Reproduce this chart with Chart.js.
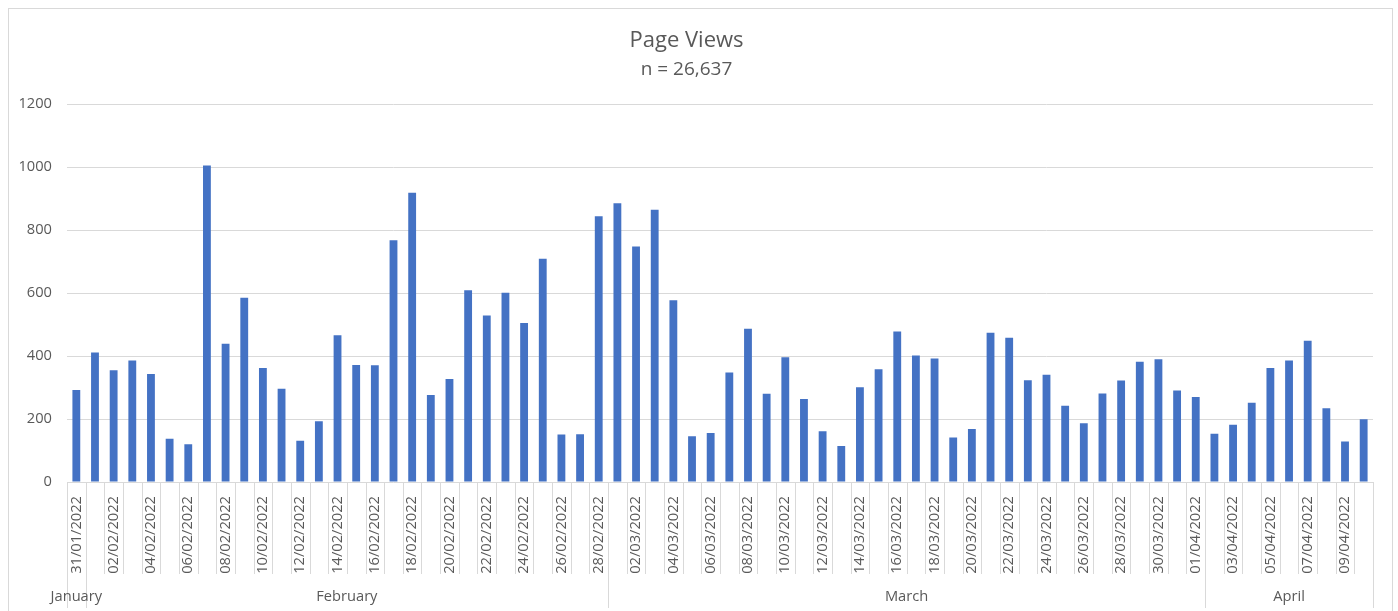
<!DOCTYPE html>
<html>
<head>
<meta charset="utf-8">
<script src="https://cdn.jsdelivr.net/npm/chart.js@4.4.1/dist/chart.umd.min.js"></script>
<style>
  html, body { margin: 0; padding: 0; background: #ffffff; }
  #wrap { width: 1398px; height: 611px; position: relative; overflow: hidden; }
  canvas { display: block; }
</style>
</head>
<body>
<div id="wrap"><canvas id="chart" width="1398" height="611"></canvas></div>
<script>
const categories = [
  '31/01/2022',
  '01/02/2022','02/02/2022','03/02/2022','04/02/2022','05/02/2022','06/02/2022','07/02/2022',
  '08/02/2022','09/02/2022','10/02/2022','11/02/2022','12/02/2022','13/02/2022','14/02/2022',
  '15/02/2022','16/02/2022','17/02/2022','18/02/2022','19/02/2022','20/02/2022','21/02/2022',
  '22/02/2022','23/02/2022','24/02/2022','25/02/2022','26/02/2022','27/02/2022','28/02/2022',
  '01/03/2022','02/03/2022','03/03/2022','04/03/2022','05/03/2022','06/03/2022','07/03/2022',
  '08/03/2022','09/03/2022','10/03/2022','11/03/2022','12/03/2022','13/03/2022','14/03/2022',
  '15/03/2022','16/03/2022','17/03/2022','18/03/2022','19/03/2022','20/03/2022','21/03/2022',
  '22/03/2022','23/03/2022','24/03/2022','25/03/2022','26/03/2022','27/03/2022','28/03/2022',
  '29/03/2022','30/03/2022','31/03/2022','01/04/2022',
  '02/04/2022','03/04/2022','04/04/2022','05/04/2022','06/04/2022','07/04/2022','08/04/2022',
  '09/04/2022','10/04/2022'
];

const pageViews = [
  292,
  411, 355, 386, 343, 137, 120, 1005,
  439, 585, 362, 296, 131, 193, 466,
  372, 371, 768, 919, 276, 327, 609,
  529, 601, 505, 709, 151, 152, 844,
  885, 748, 865, 577, 145, 156, 348,
  487, 280, 396, 264, 161, 114, 301,
  358, 478, 402, 392, 141, 168, 474,
  458, 323, 341, 242, 187, 281, 322,
  382, 390, 291, 270,
  153, 182, 252, 362, 386, 449, 234,
  129, 199
];

const yTicks = [0, 200, 400, 600, 800, 1000, 1200];

const monthNames = ['January', 'February', 'March', 'April'];
const monthSpans = [1, 28, 32, 9];

const chartTitle = 'Page Views';
const chartSubtitle = 'n = 26,637';

const TEXT = '#595959';
const GRID = '#d9d9d9';
const FONT = "'Open Sans', 'Liberation Sans', sans-serif";

const excelAxis = {
  id: 'excelAxis',
  afterDraw(chart) {
    const { ctx, chartArea, scales: { x } } = chart;
    const w = x.getPixelForValue(1) - x.getPixelForValue(0);
    const edge = k => x.getPixelForValue(k) - w / 2;
    const y0 = chartArea.bottom;
    const bounds = new Set([0]);
    let acc = 0;
    monthSpans.forEach(s => { acc += s; bounds.add(acc); });

    ctx.save();
    ctx.strokeStyle = GRID;
    ctx.lineWidth = 1;
    for (let k = 0; k <= categories.length; k++) {
      const px = Math.round(edge(k)) + 0.5;
      ctx.beginPath();
      ctx.moveTo(px, y0);
      ctx.lineTo(px, bounds.has(k) ? 608 : 574);
      ctx.stroke();
    }

    ctx.fillStyle = TEXT;
    ctx.font = '14.67px ' + FONT;
    ctx.textAlign = 'center';
    ctx.textBaseline = 'middle';
    let start = 0;
    monthNames.forEach((m, i) => {
      const c = (edge(start) + edge(start + monthSpans[i])) / 2;
      ctx.fillText(m, c, 597);
      start += monthSpans[i];
    });

    ctx.strokeRect(8.5, 8.5, 1384, 640);
    ctx.restore();
  }
};

Chart.defaults.font.family = FONT;
Chart.defaults.color = TEXT;

new Chart(document.getElementById('chart'), {
  type: 'bar',
  data: {
    labels: categories,
    datasets: [{
      label: 'Page Views',
      data: pageViews,
      backgroundColor: '#4472C4',
      borderWidth: 0,
      categoryPercentage: 1.0,
      barPercentage: 0.42
    }]
  },
  options: {
    responsive: false,
    animation: false,
    devicePixelRatio: 1,
    layout: { padding: { left: 0, right: 25, top: 0, bottom: 0 } },
    plugins: {
      legend: { display: false },
      tooltip: { enabled: false },
      title: {
        display: true,
        text: chartTitle,
        color: TEXT,
        font: { size: 22, weight: 'normal', family: FONT, lineHeight: 1.2 },
        padding: { top: 28, bottom: 2 }
      },
      subtitle: {
        display: true,
        text: chartSubtitle,
        color: TEXT,
        font: { size: 19, weight: 'normal', family: FONT, lineHeight: 1.2 },
        padding: { top: 2, bottom: 23 }
      }
    },
    scales: {
      x: {
        offset: true,
        grid: { display: false, drawTicks: false },
        border: { display: false },
        ticks: {
          autoSkip: false,
          minRotation: 90,
          maxRotation: 90,
          padding: 14,
          color: TEXT,
          font: { size: 14.67, family: FONT },
          callback: (v, i) => (i % 2 === 0 ? categories[i] : '')
        },
        afterFit: s => { s.height = 129; }
      },
      y: {
        min: 0,
        max: 1200,
        grid: { color: GRID, drawTicks: false },
        border: { display: false },
        ticks: {
          padding: 15,
          color: TEXT,
          font: { size: 14.67, family: FONT },
          callback: v => String(v)
        },
        afterBuildTicks: s => { s.ticks = yTicks.map(v => ({ value: v })); },
        afterFit: s => { s.width = 67; }
      }
    }
  },
  plugins: [excelAxis]
});
</script>
</body>
</html>
